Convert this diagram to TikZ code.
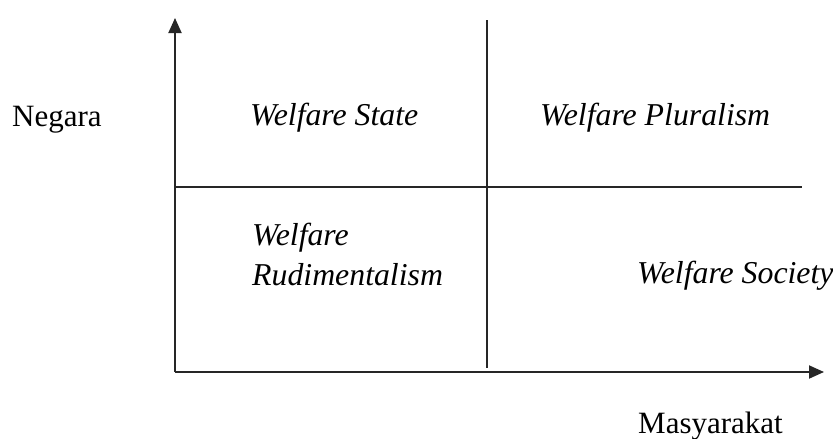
\documentclass[tikz,border=0pt]{standalone}
\usepackage{fontspec}
\setmainfont{Liberation Serif}
\usetikzlibrary{arrows.meta}
\begin{document}
\begin{tikzpicture}[x=1pt,y=-1pt,
  axis/.style={line width=1.9pt, draw=black!85},
  tip/.style={-{Triangle[length=15pt,width=13pt]}},
  label/.style={inner sep=0pt, anchor=base west, font=\fontsize{31}{36}\selectfont},
  quad/.style={label, font=\fontsize{31.8}{40}\selectfont\itshape, align=left}]
  \useasboundingbox (0,0) rectangle (833,439);
  % axes and dividers
  \coordinate (origin) at (175,372);
  \coordinate (ytip) at (175,18);
  \coordinate (xtip) at (824,372);
  \coordinate (vtop) at (487,20);
  \coordinate (vbot) at (487,368);
  \coordinate (hleft) at (175,187);
  \coordinate (hright) at (802,187);
  \draw[axis, tip] (origin) -- (ytip);
  \draw[axis, tip] (origin) -- (xtip);
  \draw[axis] (vtop) -- (vbot);
  \draw[axis] (hleft) -- (hright);
  % axis labels
  \node[label] (negara) at (12,126) {Negara};
  \node[label] (masy) at (638,433) {Masyarakat};
  % quadrant labels
  \node[quad] (state) at (250,125) {Welfare State};
  \node[quad] (plural) at (540,125) {Welfare Pluralism};
  \node[quad] (rudi) at (252,285) {Welfare\\Rudimentalism};
  \node[quad] (society) at (637,283) {Welfare Society};
\end{tikzpicture}
\end{document}
